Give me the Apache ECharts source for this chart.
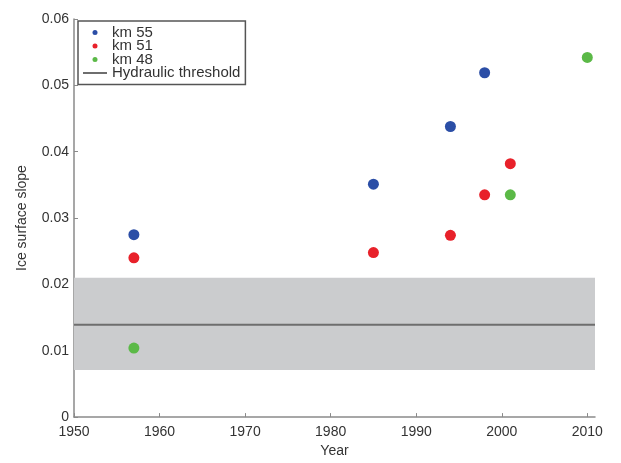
<!DOCTYPE html>
<html>
<head>
<meta charset="utf-8">
<script src="https://cdn.jsdelivr.net/npm/echarts@6/dist/echarts.min.js"></script>
<style>
  html, body { margin: 0; padding: 0; background: #fff; }
  #chart { width: 621px; height: 463px; }
</style>
</head>
<body>
<div id="chart"></div>
<script>
// data
var km55Years = [1957, 1985, 1994, 1998]
var km55Slope = [0.0275, 0.0351, 0.0438, 0.0519]
var km51Years = [1957, 1985, 1994, 1998, 2001]
var km51Slope = [0.0240, 0.0248, 0.0274, 0.0335, 0.0382]
var km48Years = [1957, 2001, 2010]
var km48Slope = [0.0104, 0.0335, 0.0542]
var thresholdYears = [1950, 2010.9]
var thresholdValue = 0.0139
var thresholdBand = [0.0071, 0.0210]
var yearTicks = [1950, 1960, 1970, 1980, 1990, 2000, 2010]

function pairs(xs, ys) {
    return xs.map(function (x, i) { return [x, ys[i]] })
}

var colors = ['#2b4ea6', '#e8212a', '#5bb947', '#6e6e6e']
var font = 'Liberation Sans, Arial, sans-serif'

var echart = echarts.init(document.getElementById('chart'))
var option = {
    animation: false,
    textStyle: { fontFamily: font },
    grid: {
        left: 74,
        right: 26,
        top: 19,
        bottom: 40
    },
    legend: {
        orient: 'vertical',
        left: 78,
        top: 21,
        padding: [4, 5, 4, 5],
        itemGap: -1.5,
        itemWidth: 24,
        itemHeight: 5,
        borderColor: '#555',
        borderWidth: 1.5,
        borderRadius: 0,
        textStyle: {
            fontSize: 15,
            color: '#333'
        },
        data: [
            { name: 'km 55', icon: 'circle' },
            { name: 'km 51', icon: 'circle' },
            { name: 'km 48', icon: 'circle' },
            {
                name: 'Hydraulic threshold',
                icon: 'path://M0 0H24V2H0Z',
                itemStyle: { color: colors[3] }
            }
        ]
    },
    xAxis: {
        type: 'value',
        min: 1950,
        max: 2010.9,
        interval: 10,
        name: 'Year',
        nameLocation: 'middle',
        nameGap: 22,
        nameTextStyle: { fontSize: 14, color: '#333' },
        axisLine: { lineStyle: { color: '#8a8a8a', width: 1.5 } },
        axisTick: {
            inside: true,
            length: 4,
            customValues: yearTicks,
            lineStyle: { color: '#8a8a8a' }
        },
        axisLabel: {
            customValues: yearTicks,
            formatter: function (v) { return String(v) },
            fontSize: 14,
            color: '#333',
            margin: 8
        },
        splitLine: { show: false }
    },
    yAxis: {
        type: 'value',
        min: 0,
        max: 0.06,
        interval: 0.01,
        name: 'Ice surface slope',
        nameLocation: 'middle',
        nameGap: 45,
        nameTextStyle: { fontSize: 14, color: '#333' },
        axisLine: { show: true, lineStyle: { color: '#8a8a8a', width: 1.5 } },
        axisTick: {
            show: true,
            inside: true,
            length: 4,
            lineStyle: { color: '#8a8a8a' }
        },
        axisLabel: {
            fontSize: 14,
            color: '#333',
            margin: 5
        },
        splitLine: { show: false }
    },
    series: [
        {
            name: 'Hydraulic threshold',
            type: 'line',
            symbol: 'none',
            z: 1,
            lineStyle: { color: colors[3], width: 2 },
            itemStyle: { color: colors[3] },
            data: thresholdYears.map(function (x) { return [x, thresholdValue] }),
            markArea: {
                silent: true,
                itemStyle: { color: '#cbccce' },
                data: [[
                    { xAxis: thresholdYears[0], yAxis: thresholdBand[0] },
                    { xAxis: thresholdYears[1], yAxis: thresholdBand[1] }
                ]]
            }
        },
        {
            name: 'km 55',
            type: 'scatter',
            symbolSize: 11,
            z: 3,
            itemStyle: { color: colors[0], opacity: 1 },
            data: pairs(km55Years, km55Slope)
        },
        {
            name: 'km 51',
            type: 'scatter',
            symbolSize: 11,
            z: 3,
            itemStyle: { color: colors[1], opacity: 1 },
            data: pairs(km51Years, km51Slope)
        },
        {
            name: 'km 48',
            type: 'scatter',
            symbolSize: 11,
            z: 3,
            itemStyle: { color: colors[2], opacity: 1 },
            data: pairs(km48Years, km48Slope)
        }
    ]
}
echart.setOption(option)
</script>
</body>
</html>
